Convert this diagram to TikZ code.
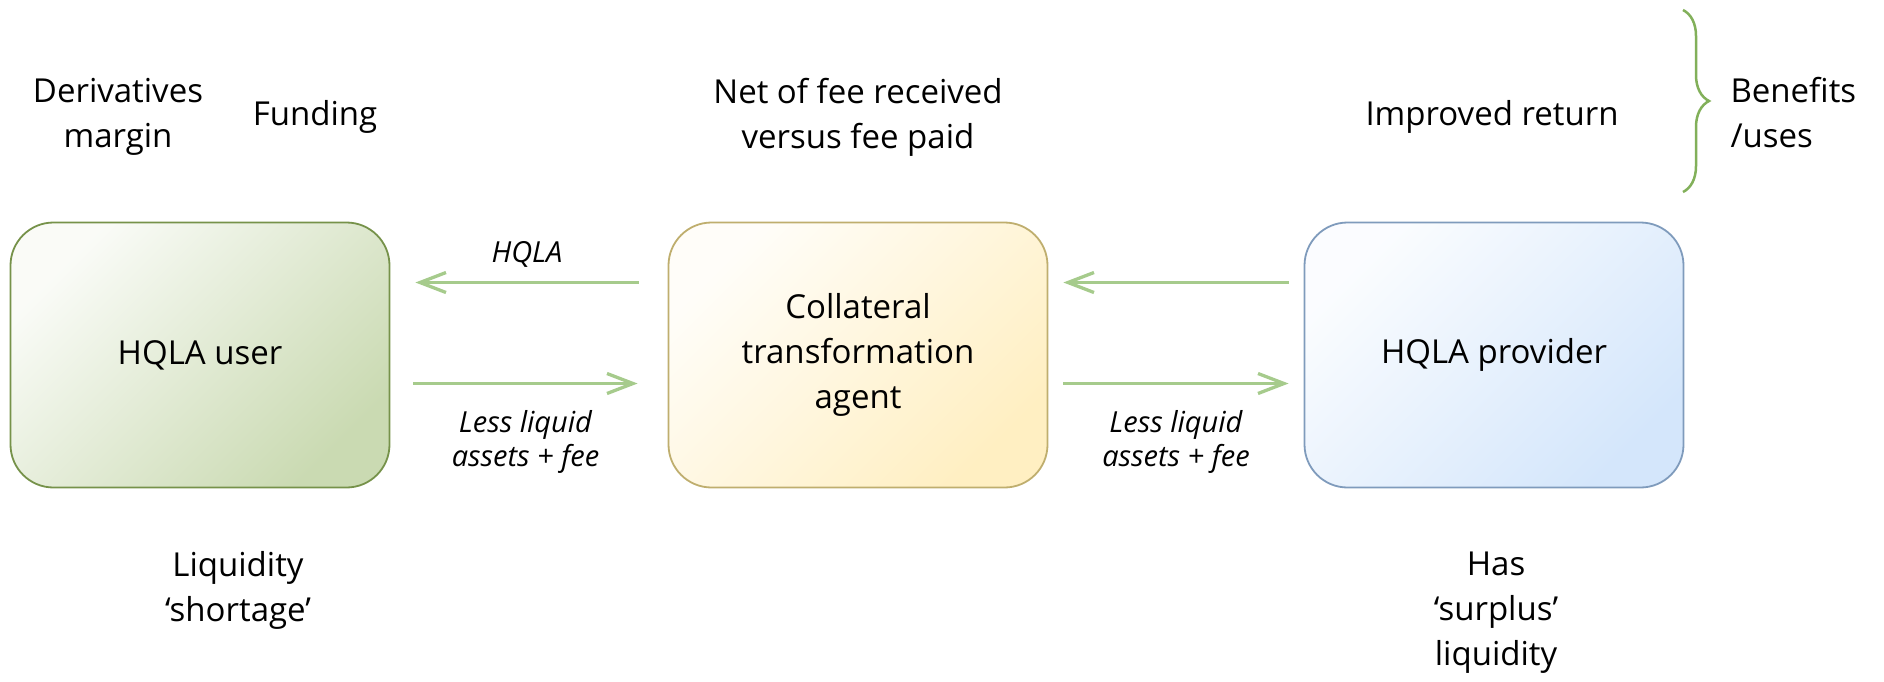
\documentclass[tikz,border=0pt]{standalone}
\usepackage{fontspec}
\setmainfont{Open Sans}
\usetikzlibrary{arrows.meta}
\usetikzlibrary{decorations.pathreplacing}
\usetikzlibrary{positioning}
\definecolor{userborder}{HTML}{76924A}
\definecolor{userfill}{HTML}{CADAB2}
\definecolor{agentborder}{HTML}{BFAE6E}
\definecolor{agentfill}{HTML}{FFEFC2}
\definecolor{providerborder}{HTML}{7F9BBC}
\definecolor{providerfill}{HTML}{D4E6FB}
\definecolor{flowgreen}{HTML}{A6CB8C}
\definecolor{bracegreen}{HTML}{82B05A}
\tikzset{auto, >={Straight Barb[length=26pt,width=20pt]}, x=1pt, y=-1pt}
\tikzstyle{party} = [draw, rectangle, rounded corners=43pt, minimum width=379pt, minimum height=265pt, line width=1.8pt, text centered, align=center, font=\fontsize{33}{45}\selectfont]
\tikzstyle{note} = [align=center, font=\fontsize{33}{45}\selectfont]
\tikzstyle{flowtext} = [align=center, font=\fontsize{29}{34}\selectfont\itshape]
\tikzstyle{flow} = [draw=flowgreen, line width=3.3pt]
\tikzstyle{benefitbrace} = [draw=bracegreen, line width=2.5pt, decorate, decoration={brace, amplitude=26pt}]

\begin{document}
\begin{tikzpicture}
		\useasboundingbox (0,0) rectangle (1884,681);
		\node [party, draw=userborder, top color=userfill!10, middle color=userfill!60, bottom color=userfill, shading angle=45] (user) at (200,355) {HQLA user};
		\node [party, draw=agentborder, top color=agentfill!10, middle color=agentfill!60, bottom color=agentfill, shading angle=45] (agent) at (858,355) {Collateral\\transformation\\agent};
		\node [party, draw=providerborder, top color=providerfill!10, middle color=providerfill!60, bottom color=providerfill, shading angle=45] (provider) at (1494,355) {HQLA provider};

		\node [note] (derivatives) at (118,117) {Derivatives\\margin};
		\node [note] (funding) at (315,117) {Funding};
		\node [note] (netfee) at (858,117) {Net of fee received\\versus fee paid};
		\node [note] (improved) at (1492,117) {Improved return};
		\node [note, align=left, anchor=west] (benefits) at (1727,113) {Benefits\\/uses};
		\node [note] (shortage) at (238,590) {Liquidity\\`shortage'};
		\node [note] (surplus) at (1496,613) {Has\\`surplus'\\liquidity};

		\coordinate (bracetop) at (1683,10);
		\coordinate (bracebottom) at (1683,192);
		\draw [benefitbrace] (bracetop) -- (bracebottom);

		\draw [flow, ->] ([xshift=-29pt,yshift=72.5pt]agent.west) -- node [flowtext, swap, above=10pt] {HQLA} ([xshift=25pt,yshift=72.5pt]user.east);
		\draw [flow, ->] ([xshift=23pt,yshift=-28.5pt]user.east) -- node [flowtext, below=22pt] {Less liquid\\assets + fee} ([xshift=-30pt,yshift=-28.5pt]agent.west);
		\draw [flow, ->] ([xshift=-15pt,yshift=72.5pt]provider.west) -- ([xshift=15pt,yshift=72.5pt]agent.east);
		\draw [flow, ->] ([xshift=15pt,yshift=-28.5pt]agent.east) -- node [flowtext, below=22pt] {Less liquid\\assets + fee} ([xshift=-15pt,yshift=-28.5pt]provider.west);
	\end{tikzpicture}
\end{document}
